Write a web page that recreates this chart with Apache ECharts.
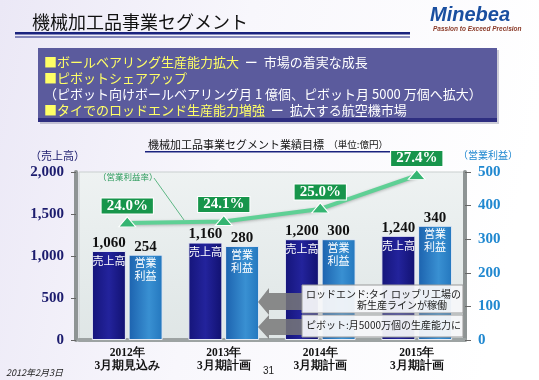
<!DOCTYPE html>
<html><head><meta charset="utf-8">
<script src="https://cdn.jsdelivr.net/npm/echarts@6/dist/echarts.min.js"></script>
<style>html,body{margin:0;padding:0;background:#fff}#c{width:539px;height:380px}</style>
</head><body><div id="c"></div>
<script>
const categories = ['2012年\n3月期見込み', '2013年\n3月期計画', '2014年\n3月期計画', '2015年\n3月期計画'];
const salesValues = [1060, 1160, 1200, 1240];
const profitValues = [254, 280, 300, 340];
const marginValues = [24.0, 24.1, 25.0, 27.4];
const leftTicks = [0, 500, 1000, 1500, 2000];
const rightTicks = [0, 100, 200, 300, 400, 500];

const chart = echarts.init(document.getElementById('c'), null, {renderer: 'canvas'});
const serif = '"Liberation Serif","DejaVu Serif",serif';
const jp = '"Noto Sans CJK JP","Noto Sans CJK SC",sans-serif';
const fmtNum = v => v.toLocaleString('en-US');

const option = {
  backgroundColor: {type: 'linear', x: 0, y: 0, x2: 1, y2: 0.3, colorStops: [
    {offset: 0, color: '#ebe8f6'}, {offset: 0.45, color: '#f8f7fc'}, {offset: 1, color: '#ffffff'}]},
  animation: false,
  grid: {left: 79, right: 74, top: 172, bottom: 40, show: true,
    backgroundColor: {type: 'linear', x: 0, y: 0, x2: 0, y2: 1, colorStops: [
      {offset: 0, color: '#eef2f2'}, {offset: 1, color: '#dfe6e6'}]},
    borderColor: '#c9cfcf', borderWidth: 1},
  xAxis: {type: 'category', data: categories,
    axisLine: {lineStyle: {color: '#9da3a3', width: 4}},
    axisTick: {show: false},
    axisLabel: {margin: 7, color: '#111', fontFamily: serif, fontWeight: 'bold', fontSize: 11.5, lineHeight: 13}},
  yAxis: [
    {type: 'value', min: leftTicks[0], max: leftTicks[leftTicks.length - 1], interval: 500, offset: 3,
      axisLine: {show: true, lineStyle: {color: '#8e9494', width: 4}},
      axisTick: {show: true, length: 5, lineStyle: {color: '#666', width: 1}},
      splitLine: {show: false},
      axisLabel: {margin: 12, color: '#1c1c6e', fontFamily: serif, fontWeight: 'bold', fontSize: 15,
        formatter: v => fmtNum(v)}},
    {type: 'value', min: rightTicks[0], max: rightTicks[rightTicks.length - 1], interval: 100,
      axisLine: {show: true, lineStyle: {color: '#8e9494', width: 4}},
      axisTick: {show: true, length: 6, lineStyle: {color: '#666', width: 1}},
      splitLine: {show: false},
      axisLabel: {margin: 13, color: '#2088d0', fontFamily: serif, fontWeight: 'bold', fontSize: 15}},
    {type: 'value', min: 15.6, max: 27.65, show: false, splitLine: {show: false}}
  ],
  series: [
    {name: '売上高', type: 'bar', yAxisIndex: 0, data: salesValues, barWidth: 34, barGap: '8%',
      itemStyle: {color: {type: 'linear', x: 0, y: 0, x2: 1, y2: 0, colorStops: [
        {offset: 0, color: '#15157a'}, {offset: 0.5, color: '#23239c'}, {offset: 1, color: '#111170'}]},
        borderColor: '#e8ecf4', borderWidth: 1},
      label: {show: true, position: 'insideTop', distance: 4, offset: [0, -22],
        formatter: p => '{v|' + fmtNum(p.value) + '}\n{n|売上高}',
        rich: {v: {fontFamily: serif, fontWeight: 'bold', fontSize: 15, color: '#111', lineHeight: 20},
               n: {fontFamily: jp, fontSize: 11, color: '#fff', lineHeight: 15}}}},
    {name: '営業利益', type: 'bar', yAxisIndex: 1, data: profitValues, barWidth: 34,
      itemStyle: {color: {type: 'linear', x: 0, y: 0, x2: 1, y2: 0, colorStops: [
        {offset: 0, color: '#1c62ae'}, {offset: 0.6, color: '#3990d2'}, {offset: 1, color: '#2477be'}]},
        borderColor: '#e8ecf4', borderWidth: 1},
      label: {show: true, position: 'insideTop', distance: 4, offset: [0, -22],
        formatter: p => '{v|' + p.value + '}\n{n|営業}\n{n|利益}',
        rich: {v: {fontFamily: serif, fontWeight: 'bold', fontSize: 15, color: '#111', lineHeight: 20},
               n: {fontFamily: jp, fontSize: 11, color: '#fff', lineHeight: 13}}}},
    {name: '営業利益率', type: 'line', yAxisIndex: 2, data: marginValues, z: 10,
      lineStyle: {color: '#5fd095', width: 4, shadowColor: 'rgba(0,0,0,0.25)', shadowBlur: 3, shadowOffsetY: 1},
      symbol: 'triangle', symbolSize: [17, 10], symbolOffset: [0, -1],
      itemStyle: {color: '#35b572', borderColor: '#ffffff', borderWidth: 1},
      label: {show: true, position: 'top', distance: 3, formatter: p => p.value.toFixed(1) + '%',
        backgroundColor: '#17954b', color: '#fff', fontFamily: serif, fontWeight: 'bold', fontSize: 15,
        padding: [0, 5, 0, 5], lineHeight: 15, borderColor: '#fff', borderWidth: 1}}
  ],
  graphic: [
    {type: 'text', left: 32, top: 13, style: {text: '機械加工品事業セグメント', font: '18px ' + jp, fill: '#111'}},
    {type: 'rect', shape: {x: 15, y: 32, width: 395, height: 2.5}, style: {fill: '#1a237e'}},
    {type: 'rect', shape: {x: 15, y: 36.5, width: 395, height: 1}, style: {fill: '#1a237e'}},
    {type: 'text', left: 430, top: 5, style: {text: 'Minebea', font: 'italic bold 20px "Liberation Sans",Arial,sans-serif', fill: '#1a4fa0'}},
    {type: 'text', left: 433, top: 26, style: {text: 'Passion to Exceed Precision', font: 'italic bold 6.5px "Liberation Sans",Arial,sans-serif', fill: '#8a3a28'}},
    {type: 'rect', shape: {x: 40, y: 50, width: 459, height: 74}, style: {fill: 'rgba(60,60,100,0.25)'}},
    {type: 'rect', shape: {x: 38, y: 48, width: 459, height: 74}, style: {fill: '#5b5b9d'}},
    {type: 'rect', shape: {x: 38, y: 118, width: 459, height: 4}, style: {fill: '#2e2e80'}},
    {type: 'text', left: 44, top: 56, style: {text: '{y|■ボールベアリング生産能力拡大}{w|  ー  市場の着実な成長}',
      rich: {y: {font: '13px ' + jp, fill: '#ffff66'}, w: {font: '13px ' + jp, fill: '#ffffff'}}}},
    {type: 'text', left: 44, top: 72, style: {text: '■ピボットシェアアップ', font: '13px ' + jp, fill: '#ffff66'}},
    {type: 'text', left: 44, top: 88, style: {text: '（ピボット向けボールベアリング月 1 億個、ピボット月 5000 万個へ拡大）', font: '13px ' + jp, fill: '#ffffff'}},
    {type: 'text', left: 44, top: 104, style: {text: '{y|■タイでのロッドエンド生産能力増強}{w|  ー  拡大する航空機市場}',
      rich: {y: {font: '13px ' + jp, fill: '#ffff66'}, w: {font: '13px ' + jp, fill: '#ffffff'}}}},
    {type: 'text', left: 148, top: 139, style: {text: '{a|機械加工品事業セグメント業績目標}{b|  （単位:億円）}',
      rich: {a: {font: '11px ' + jp, fill: '#111'}, b: {font: '9.5px ' + jp, fill: '#111'}}}},
    {type: 'rect', shape: {x: 145, y: 151, width: 245, height: 1.5}, style: {fill: '#1a237e'}},
    {type: 'text', left: 30, top: 150, style: {text: '（売上高）', font: '11px ' + jp, fill: '#1c1c6e'}},
    {type: 'text', left: 458, top: 150, style: {text: '（営業利益）', font: '10px ' + jp, fill: '#2088d0'}},
    {type: 'text', left: 98, top: 173, z: 50, style: {text: '（営業利益率）', font: '8.5px ' + jp, fill: '#2a9a5a'}},
    {type: 'line', z: 50, shape: {x1: 154, y1: 178, x2: 184, y2: 220}, style: {stroke: '#3aa86a', lineWidth: 0.8}},
    {type: 'polygon', z: 60, shape: {points: [[258, 302], [269, 288], [269, 293], [303, 293], [303, 310], [269, 310], [269, 315]]}, style: {fill: 'rgba(120,120,120,0.85)'}},
    {type: 'polygon', z: 60, shape: {points: [[258, 327], [269, 315], [269, 319], [303, 319], [303, 335], [269, 335], [269, 339]]}, style: {fill: 'rgba(120,120,120,0.85)'}},
    {type: 'rect', z: 61, shape: {x: 302, y: 285, width: 161, height: 28}, style: {fill: 'rgba(246,247,249,0.95)', stroke: '#9a9a9a', lineWidth: 1}},
    {type: 'rect', z: 61, shape: {x: 302, y: 315, width: 161, height: 22}, style: {fill: 'rgba(246,247,249,0.95)', stroke: '#9a9a9a', lineWidth: 1}},
    {type: 'text', z: 62, left: 306, top: 289, style: {text: 'ロッドエンド:タイ ロッブリ工場の', font: '10px ' + jp, fill: '#222'}},
    {type: 'text', z: 62, left: 357, top: 300, style: {text: '新生産ラインが稼働', font: '10px ' + jp, fill: '#222'}},
    {type: 'text', z: 62, left: 306, top: 320, style: {text: 'ピボット:月5000万個の生産能力に', font: '10px ' + jp, fill: '#222'}},
    {type: 'text', left: 6, top: 368, style: {text: '2012年2月3日', font: 'italic 9px ' + jp, fill: '#222'}},
    {type: 'text', left: 263, top: 366, style: {text: '31', font: '10px "Liberation Sans",sans-serif', fill: '#222'}}
  ]
};
chart.setOption(option);
</script></body></html>
